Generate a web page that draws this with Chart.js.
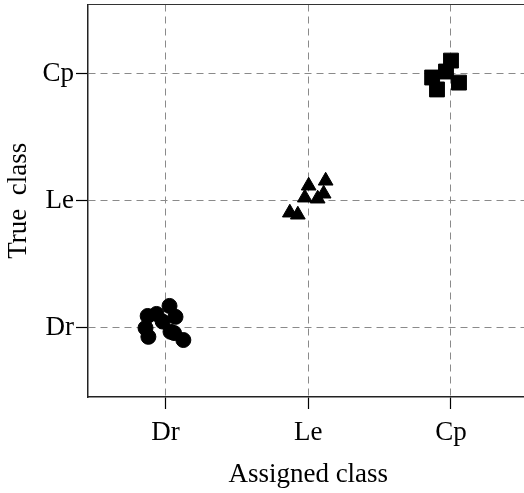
<!DOCTYPE html>
<html>
<head>
<meta charset="utf-8">
<script src="https://cdn.jsdelivr.net/npm/chart.js@4/dist/chart.umd.min.js"></script>
<style>
  html, body { margin: 0; padding: 0; background: #fff; overflow: hidden; }
  #wrap { width: 540px; height: 500px; margin-top: -7px; }
</style>
</head>
<body>
<div id="wrap"><canvas id="classChart"></canvas></div>
<script>
"use strict";

const classLabels = ["Dr", "Le", "Cp"];

// Dr samples (circles)
const drX = [0.875, 0.937, 1.028, 1.07, 0.88, 1.035, 1.125, 0.86, 0.98, 1.06];
const drY = [1.094, 1.11, 1.173, 1.087, 0.93, 0.97, 0.905, 1.0, 1.05, 0.96];

// Le samples (triangles)
const leX = [1.871, 1.927, 2.003, 1.976, 2.122, 2.108, 2.066];
const leY = [1.906, 1.89, 2.118, 2.024, 2.157, 2.055, 2.016];

// Cp samples (squares)
const cpX = [3.0, 2.868, 2.902, 3.056, 2.965];
const cpY = [3.102, 2.969, 2.875, 2.929, 3.016];

function toPoints(xs, ys) {
  return xs.map((x, i) => ({ x: x, y: ys[i] }));
}

const fontFamily = "'Liberation Serif', 'DejaVu Serif', serif";

// top frame line
const framePlugin = {
  id: "frame",
  afterDraw(chart) {
    const a = chart.chartArea;
    const c = chart.ctx;
    c.save();
    c.strokeStyle = "#333";
    c.lineWidth = 1.2;
    c.beginPath();
    c.moveTo(a.left, a.top);
    c.lineTo(a.right, a.top);
    c.stroke();
    c.restore();
  },
};

function classTicks(axis) {
  axis.ticks = [1, 2, 3].map((v) => ({ value: v }));
}

const gridStyle = {
  color: "#8a8a8a",
  lineWidth: 1,
  tickColor: "#000",
  tickBorderDash: [],
  tickLength: 12,
  tickWidth: 1.2,
};

const borderStyle = { display: true, color: "#222", width: 1.5, dash: [7, 5] };

new Chart(document.getElementById("classChart"), {
  type: "scatter",
  data: {
    datasets: [
      {
        label: "Dr",
        data: toPoints(drX, drY),
        pointStyle: "circle",
        pointRadius: 7.5,
        backgroundColor: "#000",
        borderColor: "#000",
      },
      {
        label: "Le",
        data: toPoints(leX, leY),
        pointStyle: "triangle",
        pointRadius: 8.5,
        backgroundColor: "#000",
        borderColor: "#000",
      },
      {
        label: "Cp",
        data: toPoints(cpX, cpY),
        pointStyle: "rect",
        pointRadius: 10.5,
        backgroundColor: "#000",
        borderColor: "#000",
      },
    ],
  },
  options: {
    responsive: true,
    maintainAspectRatio: false,
    animation: false,
    layout: { padding: { left: 0, top: 0, right: 0, bottom: 0 } },
    plugins: {
      legend: { display: false },
      tooltip: { enabled: false },
    },
    scales: {
      x: {
        type: "linear",
        min: 0.457,
        max: 3.543,
        afterBuildTicks: classTicks,
        afterFit(axis) {
          axis.height = 96;
          axis.paddingLeft = 0;
          axis.paddingRight = 0;
        },
        grid: gridStyle,
        border: borderStyle,
        ticks: {
          color: "#000",
          font: { family: fontFamily, size: 27 },
          padding: 8,
          callback: (v) => classLabels[v - 1],
        },
        title: {
          display: true,
          text: "Assigned class",
          color: "#000",
          font: { family: fontFamily, size: 27 },
          padding: { top: 0, bottom: 2 },
        },
      },
      y: {
        type: "linear",
        min: 0.457,
        max: 3.543,
        afterBuildTicks: classTicks,
        afterFit(axis) {
          axis.width = 88;
          axis.paddingTop = 0;
          axis.paddingBottom = 0;
        },
        grid: gridStyle,
        border: borderStyle,
        ticks: {
          color: "#000",
          font: { family: fontFamily, size: 27 },
          padding: 2,
          callback: (v) => classLabels[v - 1],
        },
        title: {
          display: true,
          text: "True  class",
          color: "#000",
          font: { family: fontFamily, size: 27 },
          padding: { top: 3, bottom: 0 },
        },
      },
    },
  },
  plugins: [framePlugin],
});
</script>
</body>
</html>
